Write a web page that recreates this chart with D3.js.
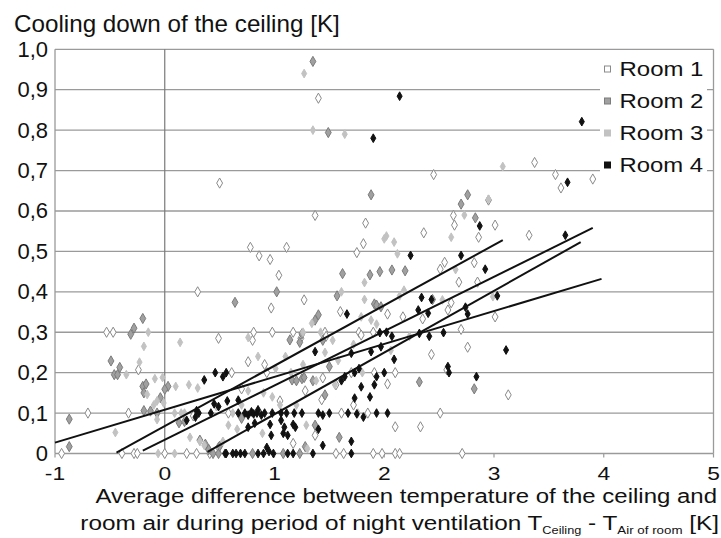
<!DOCTYPE html>
<html><head><meta charset="utf-8">
<script src="https://cdn.jsdelivr.net/npm/d3@7/dist/d3.min.js"></script>
<style>body{margin:0;background:#fff}svg{display:block}text{font-family:"Liberation Sans",Arial,sans-serif;fill:#111}</style>
</head><body>
<script>
const xTicks = [-1, 0, 1, 2, 3, 4, 5];
const yTicks = [0, 0.1, 0.2, 0.3, 0.4, 0.5, 0.6, 0.7, 0.8, 0.9, 1.0];
const roomNames = ["Room 1", "Room 2", "Room 3", "Room 4"];

const room1 = [[-0.94,0],[-0.70,0.10],[-0.53,0.30],[-0.47,0.30],[-0.39,0],[-0.33,0.10],[-0.28,0],[-0.25,0],[-0.24,0.207],[0.0,0],[0.2,0],[0.26,0.093],[0.29,0],[0.30,0.40],[0.41,0],[0.40,0.01],[0.49,0.285],[0.49,0.015],[0.50,0.669],[0.58,0.10],[0.61,0.20],[0.76,0.227],[0.78,0.51],[0.80,0.28],[0.81,0.30],[0.86,0.489],[0.91,0.22],[0.93,0.20],[0.96,0.48],[0.97,0.36],[0.98,0.30],[1.04,0.441],[1.11,0.51],[1.17,0.30],[1.17,0.025],[1.27,0.38],[1.24,0.285],[1.37,0.589],[1.37,0.045],[1.40,0.879],[1.43,0.133],[1.44,0.187],[1.46,0.30],[1.47,0.29],[1.56,0.17],[1.56,0],[1.60,0.351],[1.61,0.10],[1.63,0],[1.70,0.20],[1.72,0.12],[1.75,0.497],[1.77,0.30],[1.79,0.293],[1.81,0.519],[1.83,0.57],[1.85,0.10],[1.90,0.30],[1.90,0],[1.91,0.20],[1.98,0],[2.03,0.345],[2.03,0.172],[2.10,0.20],[2.10,0.066],[2.10,0],[2.14,0],[2.17,0.338],[2.33,0.066],[2.35,0.333],[2.36,0.546],[2.43,0.245],[2.45,0.69],[2.51,0.456],[2.51,0.10],[2.55,0.473],[2.57,0.207],[2.58,0.355],[2.61,0.373],[2.63,0.589],[2.64,0.565],[2.68,0.424],[2.70,0.307],[2.71,0],[2.76,0.263],[2.82,0.472],[2.85,0.424],[2.86,0.535],[2.95,0.627],[3.01,0.565],[3.01,0.338],[3.13,0.145],[3.32,0.54],[3.37,0.72],[3.56,0.69],[3.61,0.657],[3.90,0.679],[1.28,0.155],[1.05,0.13],[0.70,0.16]];

const room2 = [[-0.87,0.085],[-0.87,0.017],[-0.49,0.229],[-0.46,0.195],[-0.43,0.195],[-0.41,0.213],[-0.31,0.295],[-0.28,0.31],[-0.20,0.334],[-0.20,0.166],[-0.17,0.172],[-0.19,0.15],[-0.19,0.106],[-0.13,0.105],[-0.07,0.10],[-0.04,0.138],[0.03,0.166],[0.0,0.159],[0.13,0.076],[0.18,0.079],[0.32,0.033],[0.37,0.023],[0.40,0.01],[0.44,0],[0.49,0],[0.50,0.018],[0.64,0.374],[0.70,0.087],[0.80,0],[1.02,0.40],[1.08,0],[1.14,0.281],[1.16,0.182],[1.20,0.18],[1.23,0.275],[1.25,0.296],[1.25,0.185],[1.27,0.188],[1.28,0.017],[1.23,0],[1.35,0.18],[1.37,0.33],[1.40,0.343],[1.35,0.97],[1.37,0.07],[1.44,0.28],[1.46,0.145],[1.49,0.794],[1.50,0.215],[1.57,0.39],[1.59,0.04],[1.62,0.445],[1.87,0.442],[1.88,0.64],[1.91,0.37],[1.93,0.367],[1.96,0.45],[1.97,0.363],[2.07,0.454],[2.19,0.452],[2.32,0.177],[2.44,0.381],[2.70,0.617],[2.76,0.64],[2.82,0.16],[2.83,0.583]];

const room3 = [[-0.45,0.052],[-0.35,0.195],[-0.23,0.226],[-0.19,0.265],[-0.15,0.30],[-0.16,0.146],[-0.09,0.185],[-0.07,0.13],[-0.10,0.12],[-0.02,0.188],[-0.01,0.125],[-0.07,0.084],[-0.06,0],[0.09,0],[0.10,0.166],[0.09,0.10],[0.14,0.275],[0.15,0.10],[0.18,0.10],[0.22,0.17],[0.23,0.04],[0.30,0.162],[0.32,0.03],[0.36,0.02],[0.47,0.116],[0.53,0.03],[0.58,0.07],[0.62,0.10],[0.66,0.06],[0.70,0.12],[0.76,0.287],[0.76,0.155],[0.85,0.24],[0.89,0.05],[0.90,0.15],[0.98,0.14],[1.01,0.21],[1.05,0.12],[1.10,0.24],[1.15,0.20],[1.20,0.12],[1.26,0.22],[1.26,0.30],[1.27,0.94],[1.29,0.07],[1.30,0.012],[1.34,0.322],[1.35,0.80],[1.38,0.18],[1.42,0.30],[1.46,0.25],[1.53,0.28],[1.55,0.17],[1.58,0.23],[1.61,0.40],[1.64,0.79],[1.72,0.27],[1.76,0.10],[1.79,0.338],[1.80,0.20],[1.82,0.381],[1.82,0.423],[1.88,0.33],[1.93,0.32],[2.00,0.531],[2.02,0.538],[2.09,0.523],[2.12,0.494],[2.18,0.404],[2.14,0.39],[2.23,0.29],[2.06,0.255],[2.53,0.38],[2.61,0.535],[2.65,0.455],[2.73,0.59],[2.95,0.629],[2.99,0.388],[3.08,0.71]];

const room4 = [[0.55,0],[0.56,0],[0.62,0],[0.65,0],[0.69,0],[0.73,0],[0.85,0],[0.90,0],[0.95,0.005],[0.99,0],[1.12,0],[1.17,0],[1.35,0],[1.70,0],[0.20,0.082],[0.28,0.09],[0.29,0.106],[0.31,0.10],[0.42,0.10],[0.45,0.123],[0.49,0.116],[0.57,0.13],[0.67,0.132],[0.82,0.075],[0.76,0.065],[0.96,0.072],[1.06,0.082],[1.09,0.065],[1.08,0.05],[1.12,0.045],[1.17,0.072],[1.19,0.065],[0.97,0.045],[1.44,0.02],[1.70,0.03],[0.93,0.015],[1.40,0.06],[1.73,0.137],[1.87,0.14],[1.79,0.165],[0.67,0.1],[0.73,0.1],[0.76,0.095],[0.79,0.103],[0.81,0.098],[0.84,0.1],[0.85,0.108],[0.88,0.095],[0.91,0.1],[0.98,0.1],[1.06,0.1],[1.11,0.1],[1.18,0.1],[1.25,0.1],[1.40,0.1],[1.44,0.095],[1.50,0.1],[1.67,0.1],[1.75,0.098],[1.81,0.09],[1.93,0.1],[2.03,0.1],[0.36,0.182],[0.46,0.20],[0.53,0.19],[0.56,0.20],[1.37,0.252],[1.61,0.18],[1.64,0.19],[1.70,0.248],[1.73,0.2],[1.77,0.21],[1.88,0.252],[1.93,0.19],[1.91,0.17],[2.00,0.20],[2.09,0.233],[1.97,0.264],[2.58,0.215],[2.59,0.20],[2.84,0.19],[1.66,0.345],[1.96,0.299],[2.02,0.30],[2.07,0.29],[2.31,0.355],[2.32,0.297],[2.40,0.347],[2.41,0.29],[2.43,0.381],[2.34,0.386],[2.54,0.299],[2.74,0.362],[2.76,0.345],[3.03,0.39],[3.11,0.256],[2.24,0.49],[2.70,0.49],[2.92,0.456],[2.87,0.563],[3.65,0.54],[3.67,0.671],[3.80,0.821],[2.14,0.884],[1.90,0.78]];

// trend lines per room: [xStart, yStart, xEnd, yEnd]
const trendA = [-1.0, 0.027, 3.98, 0.432];
const trendB = [-0.44, 0.002, 3.08, 0.528];
const trendC = [-0.20, 0.007, 3.90, 0.558];
const trendD = [0.39, 0.004, 3.79, 0.523];
const trends = [trendA, trendB, trendC, trendD];

const W = 721, H = 538;
const svg = d3.select("body").append("svg").attr("width", W).attr("height", H);
const x = d3.scaleLinear().domain([-1, 5]).range([55, 713.5]);
const y = d3.scaleLinear().domain([0, 1]).range([453.5, 49.3]);

// stretch a text horizontally so it spans [x0, x1]
function fit(sel, x0, x1) {
  const node = sel.node();
  const bb = node.getBBox();
  const s = (x1 - x0) / bb.width;
  const anchor = sel.attr("text-anchor");
  const ax = anchor === "end" ? x1 : x0;
  sel.attr("transform", `translate(${ax},0) scale(${s},1) translate(${-ax},0)`);
}

const grid = svg.append("g");
grid.selectAll("line.h").data(yTicks).join("line")
  .attr("x1", x(-1)).attr("x2", x(5)).attr("y1", d => y(d)).attr("y2", d => y(d))
  .attr("stroke", "#9a9a9a").attr("stroke-width", 1.3);
grid.append("line").attr("x1", x(-1)).attr("x2", x(-1)).attr("y1", y(0)).attr("y2", y(1)).attr("stroke", "#9a9a9a").attr("stroke-width", 1.3);
grid.append("line").attr("x1", x(5)).attr("x2", x(5)).attr("y1", y(0)).attr("y2", y(1)).attr("stroke", "#9a9a9a").attr("stroke-width", 1.3);
grid.append("line").attr("x1", x(0)).attr("x2", x(0)).attr("y1", y(0)).attr("y2", y(1)).attr("stroke", "#7a7a7a").attr("stroke-width", 1.2);
grid.selectAll("line.t").data(xTicks).join("line")
  .attr("x1", d => x(d)).attr("x2", d => x(d)).attr("y1", y(0)).attr("y2", y(0) + 4)
  .attr("stroke", "#9a9a9a").attr("stroke-width", 1.2);

// tick labels
svg.append("g").selectAll("text").data(yTicks).join("text")
  .attr("x", 48).attr("y", d => y(d) + 7.5).attr("text-anchor", "end").attr("font-size", 22)
  .text(d => d === 0 ? "0" : d.toFixed(1).replace(".", ","));
svg.append("g").selectAll("text").data(xTicks).join("text")
  .attr("x", d => x(d)).attr("y", 480).attr("text-anchor", "middle").attr("font-size", 19)
  .attr("transform", d => `translate(${x(d)},0) scale(1.2,1) translate(${-x(d)},0)`)
  .text(d => d);

const sym = d3.symbol().type(d3.symbolDiamond);
const styles = [
  {data: room1, fill: "#ffffff", stroke: "#8a8a8a", size: 30},
  {data: room2, fill: "#a0a0a0", stroke: "#7c7c7c", size: 30},
  {data: room3, fill: "#c2c2c2", stroke: "#c2c2c2", size: 22},
  {data: room4, fill: "#111111", stroke: "#111111", size: 22}
];
styles.forEach(s => {
  svg.append("g").selectAll("path").data(s.data).join("path")
    .attr("d", sym.size(s.size)())
    .attr("transform", d => `translate(${x(d[0])},${y(d[1])})`)
    .attr("fill", s.fill).attr("stroke", s.stroke).attr("stroke-width", 1);
});

svg.append("g").selectAll("line").data(trends).join("line")
  .attr("x1", d => x(d[0])).attr("y1", d => y(d[1])).attr("x2", d => x(d[2])).attr("y2", d => y(d[3]))
  .attr("stroke", "#111").attr("stroke-width", 2);

// legend
const leg = svg.append("g");
leg.append("rect").attr("x", 600).attr("y", 52).attr("width", 107).attr("height", 126).attr("fill", "#fff");
const legFill = ["#ffffff", "#a0a0a0", "#c2c2c2", "#111111"];
const legStroke = ["#8a8a8a", "#7c7c7c", "#c2c2c2", "#111111"];
roomNames.forEach((n, i) => {
  const cy = 69 + i * 32;
  leg.append("rect").attr("x", 604.5).attr("y", cy - 3).attr("width", 6).attr("height", 6)
    .attr("fill", legFill[i]).attr("stroke", legStroke[i]).attr("stroke-width", 1);
  const t = leg.append("text").attr("x", 619.5).attr("y", cy + 7.5).attr("font-size", 21).text(n);
  fit(t, 619.5, 703.5);
});

// titles
const tt = svg.append("text").attr("x", 14).attr("y", 32).attr("font-size", 23).text("Cooling down of the ceiling [K]");
fit(tt, 14, 340);
const t1 = svg.append("text").attr("x", 717).attr("y", 503.5).attr("text-anchor", "end").attr("font-size", 21)
  .text("Average difference between temperature of the ceiling and");
fit(t1, 95, 717);
const t2 = svg.append("text").attr("x", 719).attr("y", 530).attr("text-anchor", "end").attr("font-size", 21);
t2.append("tspan").text("room air during period of night ventilation T");
t2.append("tspan").attr("font-size", 11).attr("dy", 4).text("Ceiling");
t2.append("tspan").attr("dy", -4).text(" - T");
t2.append("tspan").attr("font-size", 11.5).attr("dy", 4).text("Air of room");
t2.append("tspan").attr("dy", -4).text(" [K]");
fit(t2, 80, 719);
</script>
</body></html>
